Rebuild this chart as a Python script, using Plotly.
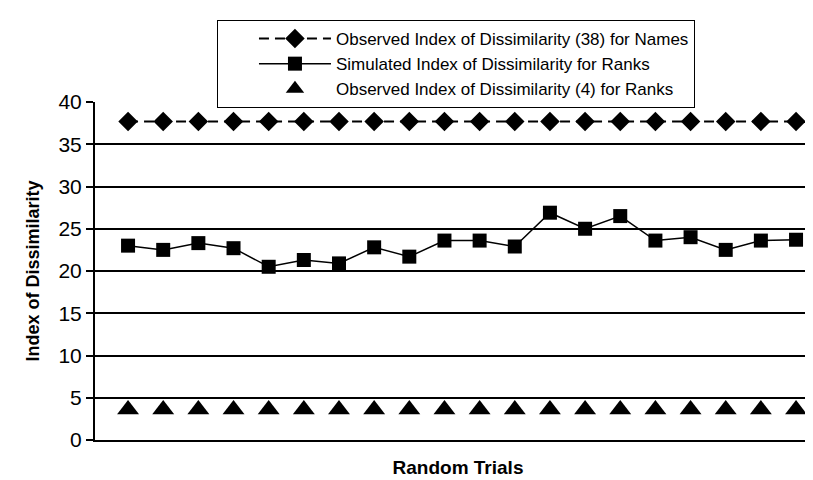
"""
Index of dissimilarity: observed vs simulated over 20 random trials
"""
# 3rd party imports
import plotly.graph_objects as go

# data
trials = list(range(1, 21))
observed_names = [37.7] * 20
simulated_ranks = [23.0, 22.5, 23.3, 22.7, 20.5, 21.3, 20.9, 22.8, 21.7, 23.6,
                   23.6, 22.9, 26.9, 25.0, 26.5, 23.6, 24.0, 22.5, 23.6, 23.7]
observed_ranks = [3.6] * 20
y_ticks = [0, 5, 10, 15, 20, 25, 30, 35, 40]

FONT = "Liberation Sans, Arial, sans-serif"


def main() -> None:
    """Main Function"""
    fig = go.Figure()

    fig.add_trace(go.Scatter(
        x=trials, y=observed_names, mode="lines+markers",
        name="Observed Index of Dissimilarity (38) for Names",
        line=dict(color="black", width=2, dash="10px,6px"),
        marker=dict(symbol="diamond", size=15, color="black"),
    ))
    fig.add_trace(go.Scatter(
        x=trials, y=simulated_ranks, mode="lines+markers",
        name="Simulated Index of Dissimilarity for Ranks",
        line=dict(color="black", width=1.5),
        marker=dict(symbol="square", size=14, color="black"),
    ))
    fig.add_trace(go.Scatter(
        x=trials, y=observed_ranks, mode="markers",
        name="Observed Index of Dissimilarity (4) for Ranks",
        marker=dict(symbol="triangle-up", size=19, color="black"),
    ))

    # axes - no x tick labels, black horizontal gridlines
    fig.update_xaxes(range=[0.06, 20.71], showticklabels=False, ticks="",
                     showgrid=False, zeroline=False,
                     showline=True, linecolor="black", linewidth=2,
                     title=dict(text="<b>Random Trials</b>", standoff=20,
                                font=dict(size=19, family=FONT, color="black")))
    fig.update_yaxes(range=[0, 40], tickvals=y_ticks, ticks="outside",
                     ticklen=7, tickwidth=1.5, tickcolor="black",
                     showgrid=True, gridcolor="black", gridwidth=1.5,
                     zeroline=False, showline=True, linecolor="black", linewidth=2,
                     tickfont=dict(size=21, family=FONT, color="black"),
                     title=dict(text="<b>Index of Dissimilarity</b>", standoff=14,
                                font=dict(size=18, family=FONT, color="black")))

    fig.update_layout(
        width=813, height=480,
        margin=dict(l=87, r=0, t=94, b=48),
        paper_bgcolor="white", plot_bgcolor="white",
        showlegend=True,
        legend=dict(x=0.168, y=1.2426, xanchor="left", yanchor="top",
                    bordercolor="black", borderwidth=1, bgcolor="white",
                    itemwidth=72, indentation=36,
                    font=dict(size=17, family=FONT, color="black")),
    )

    fig.write_html("out.html")
    print("Wrote to: out.html")


if __name__ == '__main__':
    main()
